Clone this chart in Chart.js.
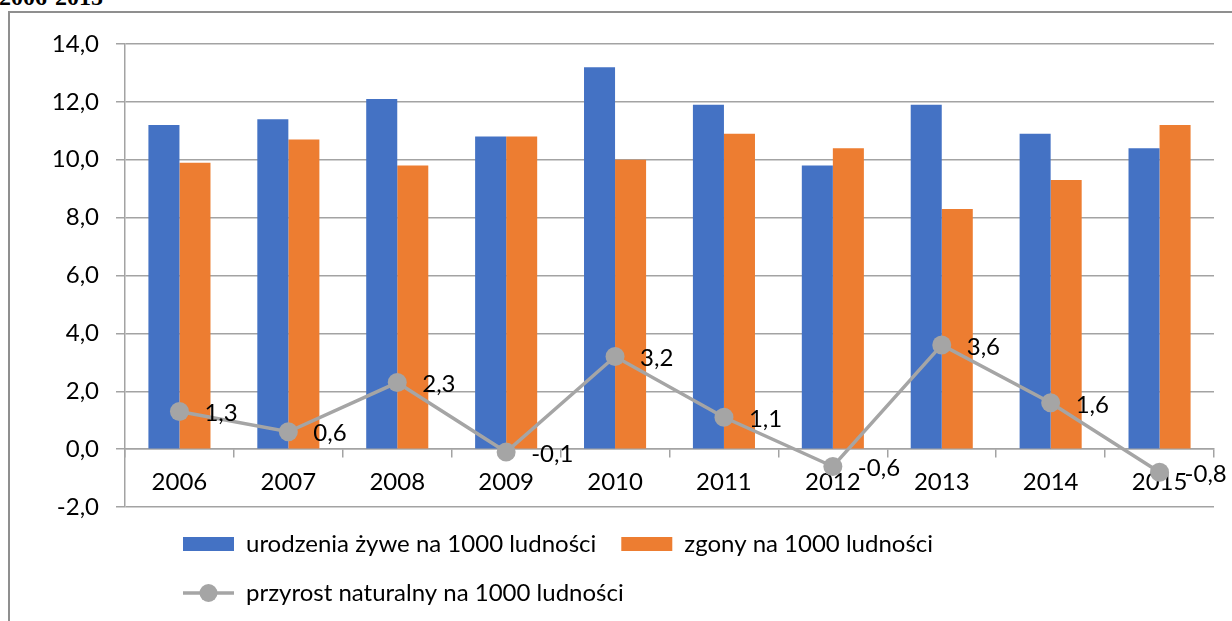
<!DOCTYPE html>
<html>
<head>
<meta charset="utf-8">
<script src="https://cdn.jsdelivr.net/npm/chart.js@4/dist/chart.umd.min.js"></script>
<style>
  body { margin: 0; width: 1232px; height: 621px; overflow: hidden; background: #fff; position: relative; }
  .title { position: absolute; left: -1px; top: -15px; font: bold 24px "Liberation Serif", serif; line-height: 24px; color: #000; }
  .frame { position: absolute; left: 8px; top: 11px; width: 1400px; height: 800px; border-left: 2px solid #8f8f8f; border-top: 2px solid #8f8f8f; }
  canvas { position: absolute; left: 0; top: 0; }
</style>
</head>
<body>
<div class="title">2006-2015</div>
<div class="frame"></div>
<canvas id="wykres" width="1232" height="621"></canvas>
<script>
const years = ['2006', '2007', '2008', '2009', '2010', '2011', '2012', '2013', '2014', '2015'];
const births = [11.2, 11.4, 12.1, 10.8, 13.2, 11.9, 9.8, 11.9, 10.9, 10.4];
const deaths = [9.9, 10.7, 9.8, 10.8, 10.0, 10.9, 10.4, 8.3, 9.3, 11.2];
const growth = [1.3, 0.6, 2.3, -0.1, 3.2, 1.1, -0.6, 3.6, 1.6, -0.8];

const gridColor = '#a3a3a3';
const fmt = v => v.toFixed(1).replace('.', ',');

// ikonka legendy: linia z kółkiem
const lineIcon = document.createElement('canvas');
lineIcon.width = 51;
lineIcon.height = 20;
(function() {
  const c = lineIcon.getContext('2d');
  c.strokeStyle = '#a5a5a5';
  c.lineWidth = 3.5;
  c.beginPath();
  c.moveTo(0, 10);
  c.lineTo(51, 10);
  c.stroke();
  c.fillStyle = '#a5a5a5';
  c.beginPath();
  c.arc(25.5, 10, 9, 0, Math.PI * 2);
  c.fill();
})();

// etykiety przy punktach linii
const lineLabels = {
  id: 'lineLabels',
  afterDatasetsDraw(chart) {
    const meta = chart.getDatasetMeta(2);
    const ctx = chart.ctx;
    ctx.save();
    ctx.font = '24px Lato';
    ctx.fillStyle = '#000';
    ctx.textAlign = 'left';
    ctx.textBaseline = 'middle';
    meta.data.forEach((pt, i) => {
      ctx.fillText(fmt(growth[i]), pt.x + 25, pt.y + 2);
    });
    ctx.restore();
  }
};

// przesunięcie legendy w prawo jak w oryginale
const legendShift = {
  id: 'legendShift',
  afterLayout(chart) {
    chart.legend.left = 158;
  }
};

Chart.defaults.font.family = 'Lato';
Chart.defaults.font.size = 24;
Chart.defaults.color = '#000';

new Chart(document.getElementById('wykres'), {
  type: 'bar',
  data: {
    labels: years,
    datasets: [
      {
        label: 'urodzenia żywe na 1000 ludności',
        data: births,
        backgroundColor: '#4472c4',
        borderWidth: 0,
        categoryPercentage: 0.57,
        barPercentage: 1,
        order: 1
      },
      {
        label: 'zgony na 1000 ludności',
        data: deaths,
        backgroundColor: '#ed7d31',
        borderWidth: 0,
        categoryPercentage: 0.57,
        barPercentage: 1,
        order: 1
      },
      {
        type: 'line',
        label: 'przyrost naturalny na 1000 ludności',
        data: growth,
        borderColor: '#a5a5a5',
        backgroundColor: '#a5a5a5',
        borderWidth: 3.5,
        pointRadius: 9.5,
        pointBackgroundColor: '#a5a5a5',
        pointBorderWidth: 0,
        tension: 0,
        order: 0
      }
    ]
  },
  options: {
    responsive: false,
    animation: false,
    layout: { padding: { left: 0, right: 18, top: 44, bottom: 6 } },
    scales: {
      x: {
        position: { y: 0 },
        grid: { drawOnChartArea: false, drawTicks: true, tickLength: 8, offset: true, color: gridColor, lineWidth: 1.5 },
        border: { display: true, color: gridColor, width: 1.5 },
        ticks: { padding: 11, maxRotation: 0 }
      },
      y: {
        min: -2,
        max: 14,
        afterFit(scale) { scale.width = 125; },
        grid: { color: gridColor, lineWidth: 1.5, tickLength: 9 },
        border: { display: true, color: gridColor, width: 1.5 },
        ticks: { stepSize: 2, padding: 17, callback: v => fmt(v) }
      }
    },
    plugins: {
      tooltip: { enabled: false },
      legend: {
        position: 'bottom',
        align: 'start',
        labels: {
          usePointStyle: true,
          pointStyleWidth: 51,
          boxHeight: 14,
          padding: 25,
          color: '#000',
          generateLabels(chart) {
            const items = Chart.defaults.plugins.legend.labels.generateLabels(chart);
            items.sort((a, b) => a.datasetIndex - b.datasetIndex);
            items.forEach(it => { it.pointStyle = it.datasetIndex === 2 ? lineIcon : 'rect'; });
            return items;
          }
        }
      }
    }
  },
  plugins: [lineLabels, legendShift]
});
</script>
</body>
</html>
